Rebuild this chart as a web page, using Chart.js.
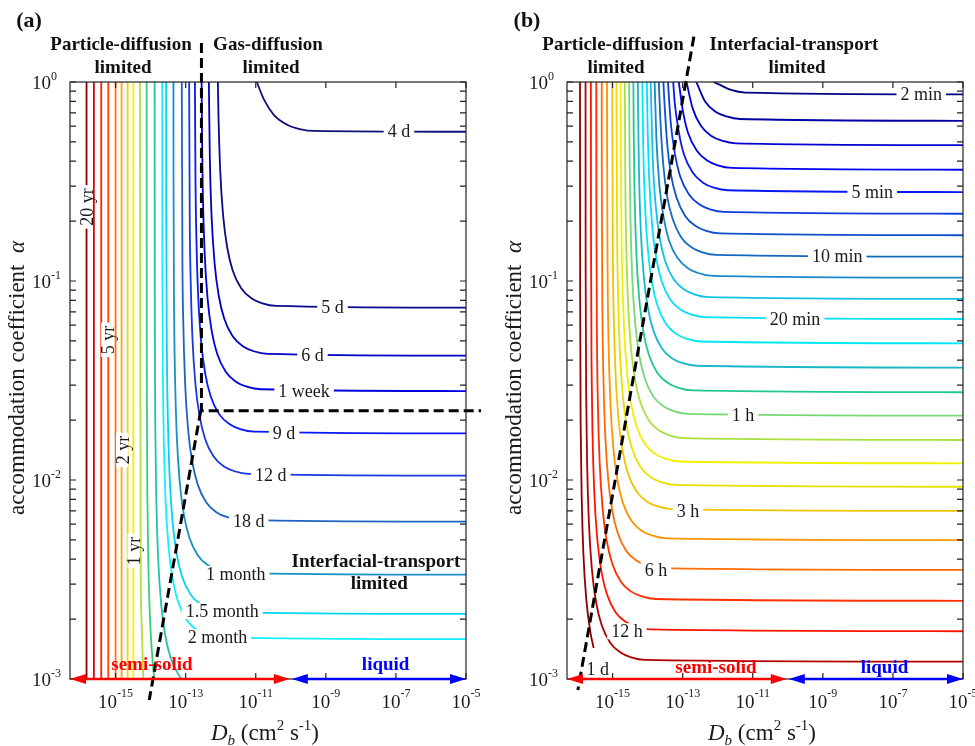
<!DOCTYPE html>
<html>
<head>
<meta charset="utf-8">
<script src="https://cdn.jsdelivr.net/npm/chart.js@4.4.0/dist/chart.umd.min.js"></script>
<style>
  html, body { margin: 0; padding: 0; background: #fff; }
  #wrap { position: relative; width: 975px; height: 746px; overflow: hidden; }
  #wrap canvas { position: absolute; top: 0; }
</style>
</head>
<body>
<div id="wrap">
  <canvas id="panelA" width="490" height="746" style="left:0"></canvas>
  <canvas id="panelB" width="485" height="746" style="left:490px"></canvas>
</div>
<script>
const SERIF = '"Liberation Serif", "Times New Roman", serif';

// axis ranges (Db in cm2/s, alpha dimensionless)
const dbMin = 5e-17, dbMax = 1e-5;
const alphaMin = 1e-3, alphaMax = 1;
const xTickExps = [-15, -13, -11, -9, -7, -5];
const yTickExps = [0, -1, -2, -3];
const phaseEdge = 1e-10; // semi-solid | liquid

// (a) contour paths as [log10 Db, log10 alpha], shortest time first
const aCurves = [
  [[-10.97,0],[-10.76,-0.09],[-10.48,-0.166],[-10.09,-0.216],[-9.71,-0.238],[-9.34,-0.246],[-5,-0.25]],
  [[-12.081,0],[-12.068,-0.134],[-12.017,-0.435],[-11.927,-0.678],[-11.813,-0.833],[-11.658,-0.947],[-11.415,-1.037],[-11.114,-1.088],[-10.813,-1.112],[-10.415,-1.125],[-5,-1.134]],
  [[-12.338,0],[-12.311,-0.375],[-12.26,-0.676],[-12.17,-0.919],[-12.056,-1.074],[-11.901,-1.188],[-11.658,-1.278],[-11.357,-1.329],[-11.056,-1.353],[-10.658,-1.366],[-5,-1.375]],
  [[-12.545,0],[-12.535,-0.252],[-12.511,-0.553],[-12.46,-0.854],[-12.37,-1.097],[-12.256,-1.252],[-12.101,-1.366],[-11.858,-1.456],[-11.557,-1.507],[-11.256,-1.531],[-10.858,-1.544],[-5,-1.553]],
  [[-12.736,0],[-12.721,-0.465],[-12.697,-0.766],[-12.646,-1.067],[-12.556,-1.31],[-12.442,-1.465],[-12.287,-1.579],[-12.044,-1.669],[-11.743,-1.72],[-11.442,-1.744],[-11.044,-1.757],[-5,-1.766]],
  [[-12.901,0],[-12.884,-0.677],[-12.86,-0.978],[-12.809,-1.279],[-12.719,-1.522],[-12.605,-1.677],[-12.45,-1.791],[-12.207,-1.881],[-11.906,-1.932],[-11.605,-1.956],[-11.207,-1.969],[-5,-1.978]],
  [[-13.111,0],[-13.092,-0.908],[-13.068,-1.209],[-13.017,-1.51],[-12.927,-1.753],[-12.813,-1.908],[-12.658,-2.022],[-12.415,-2.112],[-12.114,-2.163],[-11.813,-2.187],[-11.415,-2.2],[-5,-2.209]],
  [[-13.349,0],[-13.347,-0.476],[-13.329,-1.175],[-13.305,-1.476],[-13.254,-1.777],[-13.164,-2.02],[-13.05,-2.175],[-12.895,-2.289],[-12.652,-2.379],[-12.351,-2.43],[-12.05,-2.454],[-11.652,-2.467],[-5,-2.476]],
  [[-13.556,0],[-13.553,-0.673],[-13.535,-1.372],[-13.511,-1.673],[-13.46,-1.974],[-13.37,-2.217],[-13.256,-2.372],[-13.101,-2.486],[-12.858,-2.576],[-12.557,-2.627],[-12.256,-2.651],[-11.858,-2.664],[-5,-2.673]],
  [[-13.67,0],[-13.667,-0.8],[-13.649,-1.499],[-13.625,-1.8],[-13.574,-2.101],[-13.484,-2.344],[-13.37,-2.499],[-13.215,-2.613],[-12.972,-2.703],[-12.671,-2.754],[-12.37,-2.778],[-11.972,-2.791],[-5,-2.8]],
  [[-13.886,0],[-13.882,-1.08],[-13.864,-1.779],[-13.84,-2.08],[-13.789,-2.381],[-13.699,-2.624],[-13.585,-2.779],[-13.43,-2.893],[-13.187,-2.983],[-12.886,-3.034]],
  [[-14.114,0],[-14.11,-1.4],[-14.092,-2.099],[-14.068,-2.4],[-14.017,-2.701],[-13.927,-2.944],[-13.813,-3.099]],
  [[-14.306,0],[-14.284,-2.399],[-14.26,-2.7],[-14.209,-3.001]],
  [[-14.494,0],[-14.494,-3]],
  [[-14.657,0],[-14.657,-3]],
  [[-14.829,0],[-14.829,-3]],
  [[-15.0,0],[-15.0,-3]],
  [[-15.209,0],[-15.209,-3]],
  [[-15.409,0],[-15.409,-3]],
  [[-15.62,0],[-15.62,-3]],
  [[-15.829,0],[-15.829,-3]]
];
const aColors = ['#10107a','#0a0a8c','#0000c4','#0000e0','#0818f8','#1838e0','#1e62c2','#1890c4','#00d4ee','#10f0ff',
  '#20c4a8','#38d070','#b0e040','#f4f000','#ffd000','#ffa400','#ff7400','#ff4400','#ff1c00','#dc0000','#900000'];
const aLabelText = ['4 d','5 d','6 d','1 week','9 d','12 d','18 d','1 month','1.5 month','2 month','20 yr','5 yr','2 yr','1 yr'];
const aLabelAt = [[-6.914,-0.25],[-8.809,-1.134],[-9.38,-1.375],[-9.62,-1.553],[-10.191,-1.766],[-10.571,-1.978],[-11.2,-2.209],
  [-11.571,-2.472],[-11.957,-2.658],[-12.094,-2.789],[-15.814,-0.628],[-15.214,-1.296],[-14.786,-1.849],[-14.457,-2.357]];
const aLabelTurned = [false,false,false,false,false,false,false,false,false,false,true,true,true,true];
// regime boundaries
const aBounds = [
  [[-12.55,0.196],[-12.55,-1.652],[-4.57,-1.652]],
  [[-12.57,-1.652],[-14.04,-3.106]]
];

// (b) contour paths, shortest time first
const bCurves = [
  [[-12.12,0],[-11.92,-0.016],[-11.62,-0.04],[-11.22,-0.053],[-5,-0.062]],
  [[-12.61,0],[-12.36,-0.098],[-12.06,-0.149],[-11.75,-0.173],[-11.36,-0.186],[-5,-0.195]],
  [[-12.89,0],[-12.72,-0.13],[-12.48,-0.22],[-12.18,-0.271],[-11.88,-0.295],[-11.48,-0.308],[-5,-0.317]],
  [[-13.11,0],[-13.0,-0.14],[-12.85,-0.254],[-12.6,-0.344],[-12.3,-0.395],[-12.0,-0.419],[-11.6,-0.432],[-5,-0.441]],
  [[-13.27,0],[-13.23,-0.097],[-13.11,-0.252],[-12.96,-0.366],[-12.71,-0.456],[-12.41,-0.507],[-12.11,-0.531],[-11.71,-0.544],[-5,-0.553]],
  [[-13.42,0],[-13.34,-0.206],[-13.22,-0.361],[-13.07,-0.475],[-12.82,-0.565],[-12.52,-0.616],[-12.22,-0.64],[-11.82,-0.653],[-5,-0.662]],
  [[-13.55,0],[-13.53,-0.071],[-13.44,-0.314],[-13.33,-0.469],[-13.17,-0.583],[-12.93,-0.673],[-12.63,-0.724],[-12.33,-0.748],[-11.93,-0.761],[-5,-0.77]],
  [[-13.68,0],[-13.64,-0.179],[-13.55,-0.422],[-13.44,-0.577],[-13.28,-0.691],[-13.04,-0.781],[-12.74,-0.832],[-12.44,-0.856],[-12.04,-0.869],[-5,-0.878]],
  [[-13.8,0],[-13.75,-0.284],[-13.66,-0.527],[-13.54,-0.682],[-13.39,-0.796],[-13.14,-0.886],[-12.84,-0.937],[-12.54,-0.961],[-12.14,-0.974],[-5,-0.983]],
  [[-13.913,0],[-13.853,-0.391],[-13.763,-0.634],[-13.649,-0.789],[-13.494,-0.903],[-13.251,-0.993],[-12.95,-1.044],[-12.649,-1.068],[-12.251,-1.081],[-5,-1.09]],
  [[-14.022,0],[-14.005,-0.191],[-13.954,-0.492],[-13.864,-0.735],[-13.75,-0.89],[-13.595,-1.004],[-13.352,-1.094],[-13.051,-1.145],[-12.75,-1.169],[-12.352,-1.182],[-5,-1.191]],
  [[-14.151,0],[-14.127,-0.313],[-14.076,-0.614],[-13.986,-0.857],[-13.872,-1.012],[-13.717,-1.126],[-13.474,-1.216],[-13.173,-1.267],[-12.872,-1.291],[-12.474,-1.304],[-5,-1.313]],
  [[-14.279,0],[-14.273,-0.134],[-14.249,-0.435],[-14.198,-0.736],[-14.108,-0.979],[-13.994,-1.134],[-13.839,-1.248],[-13.596,-1.338],[-13.295,-1.389],[-12.994,-1.413],[-12.596,-1.426],[-5,-1.435]],
  [[-14.407,0],[-14.397,-0.258],[-14.373,-0.559],[-14.322,-0.86],[-14.232,-1.103],[-14.118,-1.258],[-13.963,-1.372],[-13.72,-1.462],[-13.419,-1.513],[-13.118,-1.537],[-12.72,-1.55],[-5,-1.559]],
  [[-14.528,0],[-14.515,-0.376],[-14.491,-0.677],[-14.44,-0.978],[-14.35,-1.221],[-14.236,-1.376],[-14.081,-1.49],[-13.838,-1.58],[-13.537,-1.631],[-13.236,-1.655],[-12.838,-1.668],[-5,-1.677]],
  [[-14.652,0],[-14.637,-0.498],[-14.613,-0.799],[-14.562,-1.1],[-14.472,-1.343],[-14.358,-1.498],[-14.203,-1.612],[-13.96,-1.702],[-13.659,-1.753],[-13.358,-1.777],[-12.96,-1.79],[-5,-1.799]],
  [[-14.771,0],[-14.754,-0.615],[-14.73,-0.916],[-14.679,-1.217],[-14.589,-1.46],[-14.475,-1.615],[-14.32,-1.729],[-14.077,-1.819],[-13.776,-1.87],[-13.475,-1.894],[-13.077,-1.907],[-5,-1.916]],
  [[-14.89,0],[-14.872,-0.733],[-14.848,-1.034],[-14.797,-1.335],[-14.707,-1.578],[-14.593,-1.733],[-14.438,-1.847],[-14.195,-1.937],[-13.894,-1.988],[-13.593,-2.012],[-13.195,-2.025],[-5,-2.034]],
  [[-15.012,0],[-14.993,-0.854],[-14.969,-1.155],[-14.918,-1.456],[-14.828,-1.699],[-14.714,-1.854],[-14.559,-1.968],[-14.316,-2.058],[-14.015,-2.109],[-13.714,-2.133],[-13.316,-2.146],[-5,-2.155]],
  [[-15.16,0],[-15.158,-0.302],[-15.14,-1.001],[-15.116,-1.302],[-15.065,-1.603],[-14.975,-1.846],[-14.861,-2.001],[-14.706,-2.115],[-14.463,-2.205],[-14.162,-2.256],[-13.861,-2.28],[-13.463,-2.293],[-5,-2.302]],
  [[-15.31,0],[-15.308,-0.452],[-15.29,-1.151],[-15.266,-1.452],[-15.215,-1.753],[-15.125,-1.996],[-15.011,-2.151],[-14.856,-2.265],[-14.613,-2.355],[-14.312,-2.406],[-14.011,-2.43],[-13.613,-2.443],[-5,-2.452]],
  [[-15.466,0],[-15.463,-0.607],[-15.445,-1.306],[-15.421,-1.607],[-15.37,-1.908],[-15.28,-2.151],[-15.166,-2.306],[-15.011,-2.42],[-14.768,-2.51],[-14.467,-2.561],[-14.166,-2.585],[-13.768,-2.598],[-5,-2.607]],
  [[-15.619,0],[-15.616,-0.76],[-15.598,-1.459],[-15.574,-1.76],[-15.523,-2.061],[-15.433,-2.304],[-15.319,-2.459],[-15.164,-2.573],[-14.921,-2.663],[-14.62,-2.714],[-14.319,-2.738],[-13.921,-2.751],[-5,-2.76]],
  [[-15.772,0],[-15.769,-0.913],[-15.751,-1.612],[-15.727,-1.913],[-15.676,-2.214],[-15.586,-2.457],[-15.472,-2.612],[-15.317,-2.726],[-15.074,-2.816],[-14.773,-2.867],[-14.472,-2.891],[-14.074,-2.904],[-5,-2.913]],
  [[-15.93,0],[-15.926,-1.07],[-15.908,-1.769],[-15.884,-2.07],[-15.833,-2.371],[-15.743,-2.614],[-15.629,-2.769],[-15.54,-2.844]]
];
const bColors = ['#000080','#0000a8','#0000d0','#0000f0','#0818f4','#0c3ce0','#1050cc','#1468c0','#1888c8','#10c4e8',
  '#00e0f8','#00e8f4','#18b8c8','#20c890','#78d878','#a8e040','#f0f000','#e4e000','#f0c400','#ff9400',
  '#ff6c00','#ff3000','#ff1400','#b00000','#8c0000'];
const bLabelText = ['2 min','5 min','10 min','20 min','1 h','3 h','6 h','12 h','1 d'];
const bLabelAt = [[-6.191,-0.062],[-7.591,-0.553],[-8.591,-0.878],[-9.791,-1.191],[-11.277,-1.677],[-12.849,-2.155],
  [-13.763,-2.452],[-14.591,-2.76],[-15.42,-2.95]];
const bLabelTurned = bLabelText.map(() => false);
const bBounds = [
  [[-12.68,0.228],[-15.99,-3.055]]
];

// log-axis tick positions
const yTickVals = [1];
for (let e = -3; e < 0; e++) for (let m = 1; m <= 9; m++) yTickVals.push(m * 10 ** e);

function toPts(path) {
  return path.map(p => ({ x: 10 ** p[0], y: 10 ** p[1] }));
}

// draw a run of differently styled pieces (base text, super/subscripts) in one line
function drawRuns(ctx, parts, x, y, align) {
  let total = 0;
  const widths = parts.map(p => { ctx.font = p[1]; const w = ctx.measureText(p[0]).width; total += w; return w; });
  let cx = align === 'center' ? x - total / 2 : align === 'right' ? x - total : x;
  ctx.textAlign = 'left';
  ctx.textBaseline = 'alphabetic';
  parts.forEach((p, i) => { ctx.font = p[1]; ctx.fillText(p[0], cx, y + (p[2] || 0)); cx += widths[i]; });
}

function arrow(ctx, x0, x1, y, color) {
  const head = 16, half = 5;
  ctx.strokeStyle = color; ctx.fillStyle = color; ctx.lineWidth = 2.5;
  ctx.beginPath(); ctx.moveTo(x0 + head - 2, y); ctx.lineTo(x1 - head + 2, y); ctx.stroke();
  ctx.beginPath(); ctx.moveTo(x0, y); ctx.lineTo(x0 + head, y - half); ctx.lineTo(x0 + head, y + half); ctx.closePath(); ctx.fill();
  ctx.beginPath(); ctx.moveTo(x1, y); ctx.lineTo(x1 - head, y - half); ctx.lineTo(x1 - head, y + half); ctx.closePath(); ctx.fill();
}

function makePanel(id, cfg) {
  const datasets = [];
  cfg.bounds.forEach(b => datasets.push({
    data: toPts(b), borderColor: '#000', borderWidth: 3, borderDash: [10, 5],
    pointRadius: 0, tension: 0, clip: false
  }));
  const firstCurve = datasets.length;
  cfg.curves.forEach((c, i) => datasets.push({
    data: toPts(c), borderColor: cfg.colors[i], borderWidth: 1.8, pointRadius: 0,
    cubicInterpolationMode: c.length > 2 ? 'monotone' : 'default', tension: 0
  }));

  const decor = {
    id: 'decor',
    afterDatasetDraw(chart, args) {
      if (args.index !== firstCurve) return;
      const { ctx, scales: { x, y } } = chart;
      ctx.save();
      ctx.font = `18px ${SERIF}`;
      cfg.labelText.forEach((t, i) => {
        const px = x.getPixelForValue(10 ** cfg.labelAt[i][0]);
        const py = y.getPixelForValue(10 ** cfg.labelAt[i][1]);
        const w = ctx.measureText(t).width;
        const turned = cfg.labelTurned[i];
        ctx.save();
        ctx.translate(px, py);
        if (turned) ctx.rotate(-Math.PI / 2);
        ctx.fillStyle = '#fff';
        if (turned) ctx.fillRect(-w / 2 - 3, -7, w + 6, 12);
        else ctx.fillRect(-w / 2 - 4, -8, w + 8, 16);
        ctx.fillStyle = '#1a1a1a';
        ctx.textAlign = 'center';
        ctx.textBaseline = 'middle';
        ctx.fillText(t, 0, 1);
        ctx.restore();
      });
      ctx.restore();
    },
    afterDraw(chart) {
      const { ctx, chartArea: a, scales: { x, y } } = chart;
      ctx.save();
      // frame and inward ticks
      ctx.strokeStyle = '#222';
      ctx.lineWidth = 1.2;
      ctx.beginPath();
      xTickExps.forEach(e => {
        const px = x.getPixelForValue(10 ** e);
        ctx.moveTo(px, a.bottom); ctx.lineTo(px, a.bottom - 6);
        ctx.moveTo(px, a.top); ctx.lineTo(px, a.top + 6);
      });
      yTickVals.forEach(v => {
        const py = y.getPixelForValue(v);
        ctx.moveTo(a.left, py); ctx.lineTo(a.left + 6, py);
        ctx.moveTo(a.right, py); ctx.lineTo(a.right - 6, py);
      });
      ctx.stroke();
      ctx.strokeRect(a.left, a.top, a.right - a.left, a.bottom - a.top);

      // tick labels
      ctx.fillStyle = '#1a1a1a';
      const base = `19px ${SERIF}`, sup = `12px ${SERIF}`;
      xTickExps.forEach(e => drawRuns(ctx, [['10', base], [String(e), sup, -11]], x.getPixelForValue(10 ** e), 708, 'center'));
      yTickExps.forEach(e => {
        const py = y.getPixelForValue(10 ** e);
        drawRuns(ctx, [['10', base]], a.left - 19, py + 7, 'right');
        drawRuns(ctx, [[String(e), sup]], a.left - 19, py - 2, 'left');
      });

      // axis titles
      const cx = (a.left + a.right) / 2 - 3;
      drawRuns(ctx, [['D', `italic 23px ${SERIF}`], ['b', `italic 15px ${SERIF}`, 5], [' (cm', `23px ${SERIF}`],
        ['2', `15px ${SERIF}`, -10], [' s', `23px ${SERIF}`], ['-1', `15px ${SERIF}`, -10], [')', `23px ${SERIF}`]], cx, 740, 'center');
      ctx.save();
      ctx.translate(a.left - 46, 378);
      ctx.rotate(-Math.PI / 2);
      drawRuns(ctx, [['accommodation coefficient  ', `23px ${SERIF}`], ['\u03b1', `italic 23px ${SERIF}`]], 0, 0, 'center');
      ctx.restore();

      // panel letter and regime names
      const bold = `bold 19px ${SERIF}`;
      ctx.fillStyle = '#111';
      drawRuns(ctx, [[cfg.letter, `bold 22px ${SERIF}`]], cfg.letterX, 27, 'center');
      cfg.heads.forEach(h => drawRuns(ctx, [[h[0], bold]], h[1], h[2], 'center'));
      cfg.inner.forEach(h => drawRuns(ctx, [[h[0], bold]], x.getPixelForValue(10 ** h[1]), y.getPixelForValue(10 ** h[2]), 'center'));

      // phase-state arrows along the bottom axis
      const xe = x.getPixelForValue(phaseEdge);
      arrow(ctx, a.left, xe - 1, a.bottom, '#ff0000');
      arrow(ctx, xe + 1, a.right, a.bottom, '#0000ff');
      ctx.fillStyle = '#ff0000';
      drawRuns(ctx, [['semi-solid', bold]], x.getPixelForValue(10 ** cfg.phaseAt[0]), y.getPixelForValue(10 ** cfg.phaseAt[2]), 'center');
      ctx.fillStyle = '#0000ff';
      drawRuns(ctx, [['liquid', bold]], x.getPixelForValue(10 ** cfg.phaseAt[1]), y.getPixelForValue(10 ** cfg.phaseAt[2]), 'center');
      ctx.restore();
    }
  };

  return new Chart(document.getElementById(id), {
    type: 'line',
    data: { datasets },
    options: {
      responsive: false,
      animation: false,
      events: [],
      layout: { padding: { left: 0, right: cfg.padRight, top: 82, bottom: 0 } },
      plugins: { legend: { display: false }, tooltip: { enabled: false } },
      scales: {
        x: {
          type: 'logarithmic', min: dbMin, max: dbMax,
          grid: { display: false }, border: { display: false }, ticks: { display: false },
          afterFit: s => { s.height = 67; }
        },
        y: {
          type: 'logarithmic', min: alphaMin, max: alphaMax,
          grid: { display: false }, border: { display: false }, ticks: { display: false },
          afterFit: s => { s.width = cfg.yWidth; }
        }
      }
    },
    plugins: [decor]
  });
}

makePanel('panelA', {
  curves: aCurves, colors: aColors, bounds: aBounds,
  labelText: aLabelText, labelAt: aLabelAt, labelTurned: aLabelTurned,
  yWidth: 70, padRight: 24,
  letter: '(a)', letterX: 29,
  heads: [['Particle-diffusion', 121, 50], ['limited', 123, 73], ['Gas-diffusion', 268, 50], ['limited', 271, 73]],
  inner: [['Interfacial-transport', -7.571, -2.437], ['limited', -7.477, -2.548]],
  phaseAt: [-13.963, -7.294, -2.955]
});

makePanel('panelB', {
  curves: bCurves, colors: bColors, bounds: bBounds,
  labelText: bLabelText, labelAt: bLabelAt, labelTurned: bLabelTurned,
  yWidth: 77, padRight: 12,
  letter: '(b)', letterX: 37,
  heads: [['Particle-diffusion', 123, 50], ['limited', 126, 73], ['Interfacial-transport', 304, 50], ['limited', 307, 73]],
  inner: [],
  phaseAt: [-12.049, -7.24, -2.968]
});
</script>
</body>
</html>
